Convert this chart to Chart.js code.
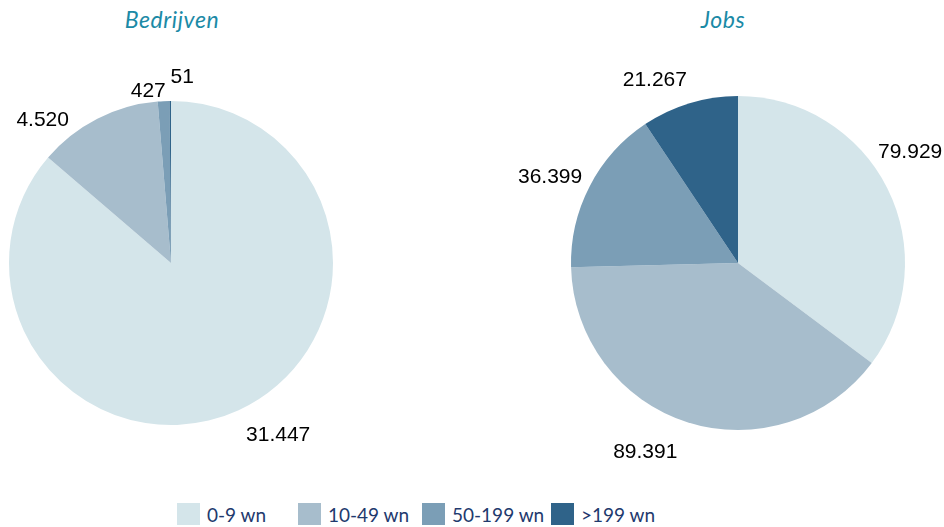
<!DOCTYPE html>
<html>
<head>
<meta charset="utf-8">
<script src="https://cdn.jsdelivr.net/npm/chart.js@4/dist/chart.umd.min.js"></script>
<style>
  html, body { margin: 0; padding: 0; background: #ffffff; }
  #wrap { position: relative; width: 944px; height: 527px; overflow: hidden; }
  .title { position: absolute; top: 5px; font-family: Lato, "Open Sans", sans-serif; font-style: italic;
           font-size: 23px; color: #1b8aa6; letter-spacing: 0.6px; transform: translateX(-50%); white-space: nowrap; }
  canvas { position: absolute; }
  .leg { position: absolute; top: 503px; height: 22px; display: flex; align-items: center;
         font-family: Lato, "Open Sans", sans-serif; font-size: 19px; color: #1f3a6e; white-space: nowrap; }
  .leg span.box { display: inline-block; width: 23px; height: 22px; margin-right: 7px; }
</style>
</head>
<body>
<div id="wrap">
  <div class="title" id="t1" style="left:172px;"></div>
  <div class="title" id="t2" style="left:723px;"></div>
  <canvas id="c1" width="342" height="426" style="left:0px; top:50px;"></canvas>
  <canvas id="c2" width="464" height="426" style="left:480px; top:50px;"></canvas>
  <div id="legend"></div>
</div>
<script>
// ---- data ----
const categories = ["0-9 wn", "10-49 wn", "50-199 wn", ">199 wn"];
const bedrijvenValues = [31447, 4520, 427, 51];
const jobsValues = [79929, 89391, 36399, 21267];
const titles = ["Bedrijven", "Jobs"];

// ---- styling ----
const colors = ["#d4e5ea", "#a7bdcc", "#7b9eb6", "#2f6389"];
const legendLeft = [177, 298, 422, 551];
// label nudges (px) relative to the outside-end anchor on the slice mid-angle
const leftLabelNudge = [[27, -2], [-41, 28], [-14, 20], [12, 6]];
const rightLabelNudge = [[-4, -23], [-33, 1], [-13, 5], [-26, 6]];

document.getElementById("t1").textContent = titles[0];
document.getElementById("t2").textContent = titles[1];

const legend = document.getElementById("legend");
categories.forEach((c, i) => {
  const d = document.createElement("div");
  d.className = "leg";
  d.style.left = legendLeft[i] + "px";
  const b = document.createElement("span");
  b.className = "box";
  b.style.background = colors[i];
  d.appendChild(b);
  d.appendChild(document.createTextNode(c));
  legend.appendChild(d);
});

function fmt(v) {
  return String(v).replace(/\B(?=(\d{3})+(?!\d))/g, ".");
}

const labelPlugin = {
  id: "outLabels",
  afterDatasetsDraw(chart, args, opts) {
    const ctx = chart.ctx;
    const meta = chart.getDatasetMeta(0);
    const data = chart.data.datasets[0].data;
    ctx.save();
    ctx.font = "21px 'Liberation Sans', Arial, sans-serif";
    ctx.fillStyle = "#000000";
    ctx.textAlign = "center";
    ctx.textBaseline = "middle";
    meta.data.forEach((arc, i) => {
      const p = arc.getProps(["x", "y", "startAngle", "endAngle", "outerRadius"], true);
      const mid = (p.startAngle + p.endAngle) / 2;
      const d = p.outerRadius + 30;
      const n = opts.nudge[i] || [0, 0];
      const lx = p.x + Math.cos(mid) * d + n[0];
      const ly = p.y + Math.sin(mid) * d + n[1];
      ctx.fillText(fmt(data[i]), lx, ly);
    });
    ctx.restore();
  }
};

function makePie(id, values, padding, nudge) {
  return new Chart(document.getElementById(id), {
    type: "pie",
    data: {
      labels: categories,
      datasets: [{ data: values, backgroundColor: colors, borderWidth: 0 }]
    },
    options: {
      responsive: false,
      animation: false,
      devicePixelRatio: 1,
      layout: { padding: padding },
      plugins: {
        legend: { display: false },
        tooltip: { enabled: false },
        outLabels: { nudge: nudge }
      }
    },
    plugins: [labelPlugin]
  });
}

makePie("c1", bedrijvenValues, { left: 9, right: 9, top: 51, bottom: 51 }, leftLabelNudge);
makePie("c2", jobsValues, { left: 91, right: 39, top: 46, bottom: 46 }, rightLabelNudge);
</script>
</body>
</html>
